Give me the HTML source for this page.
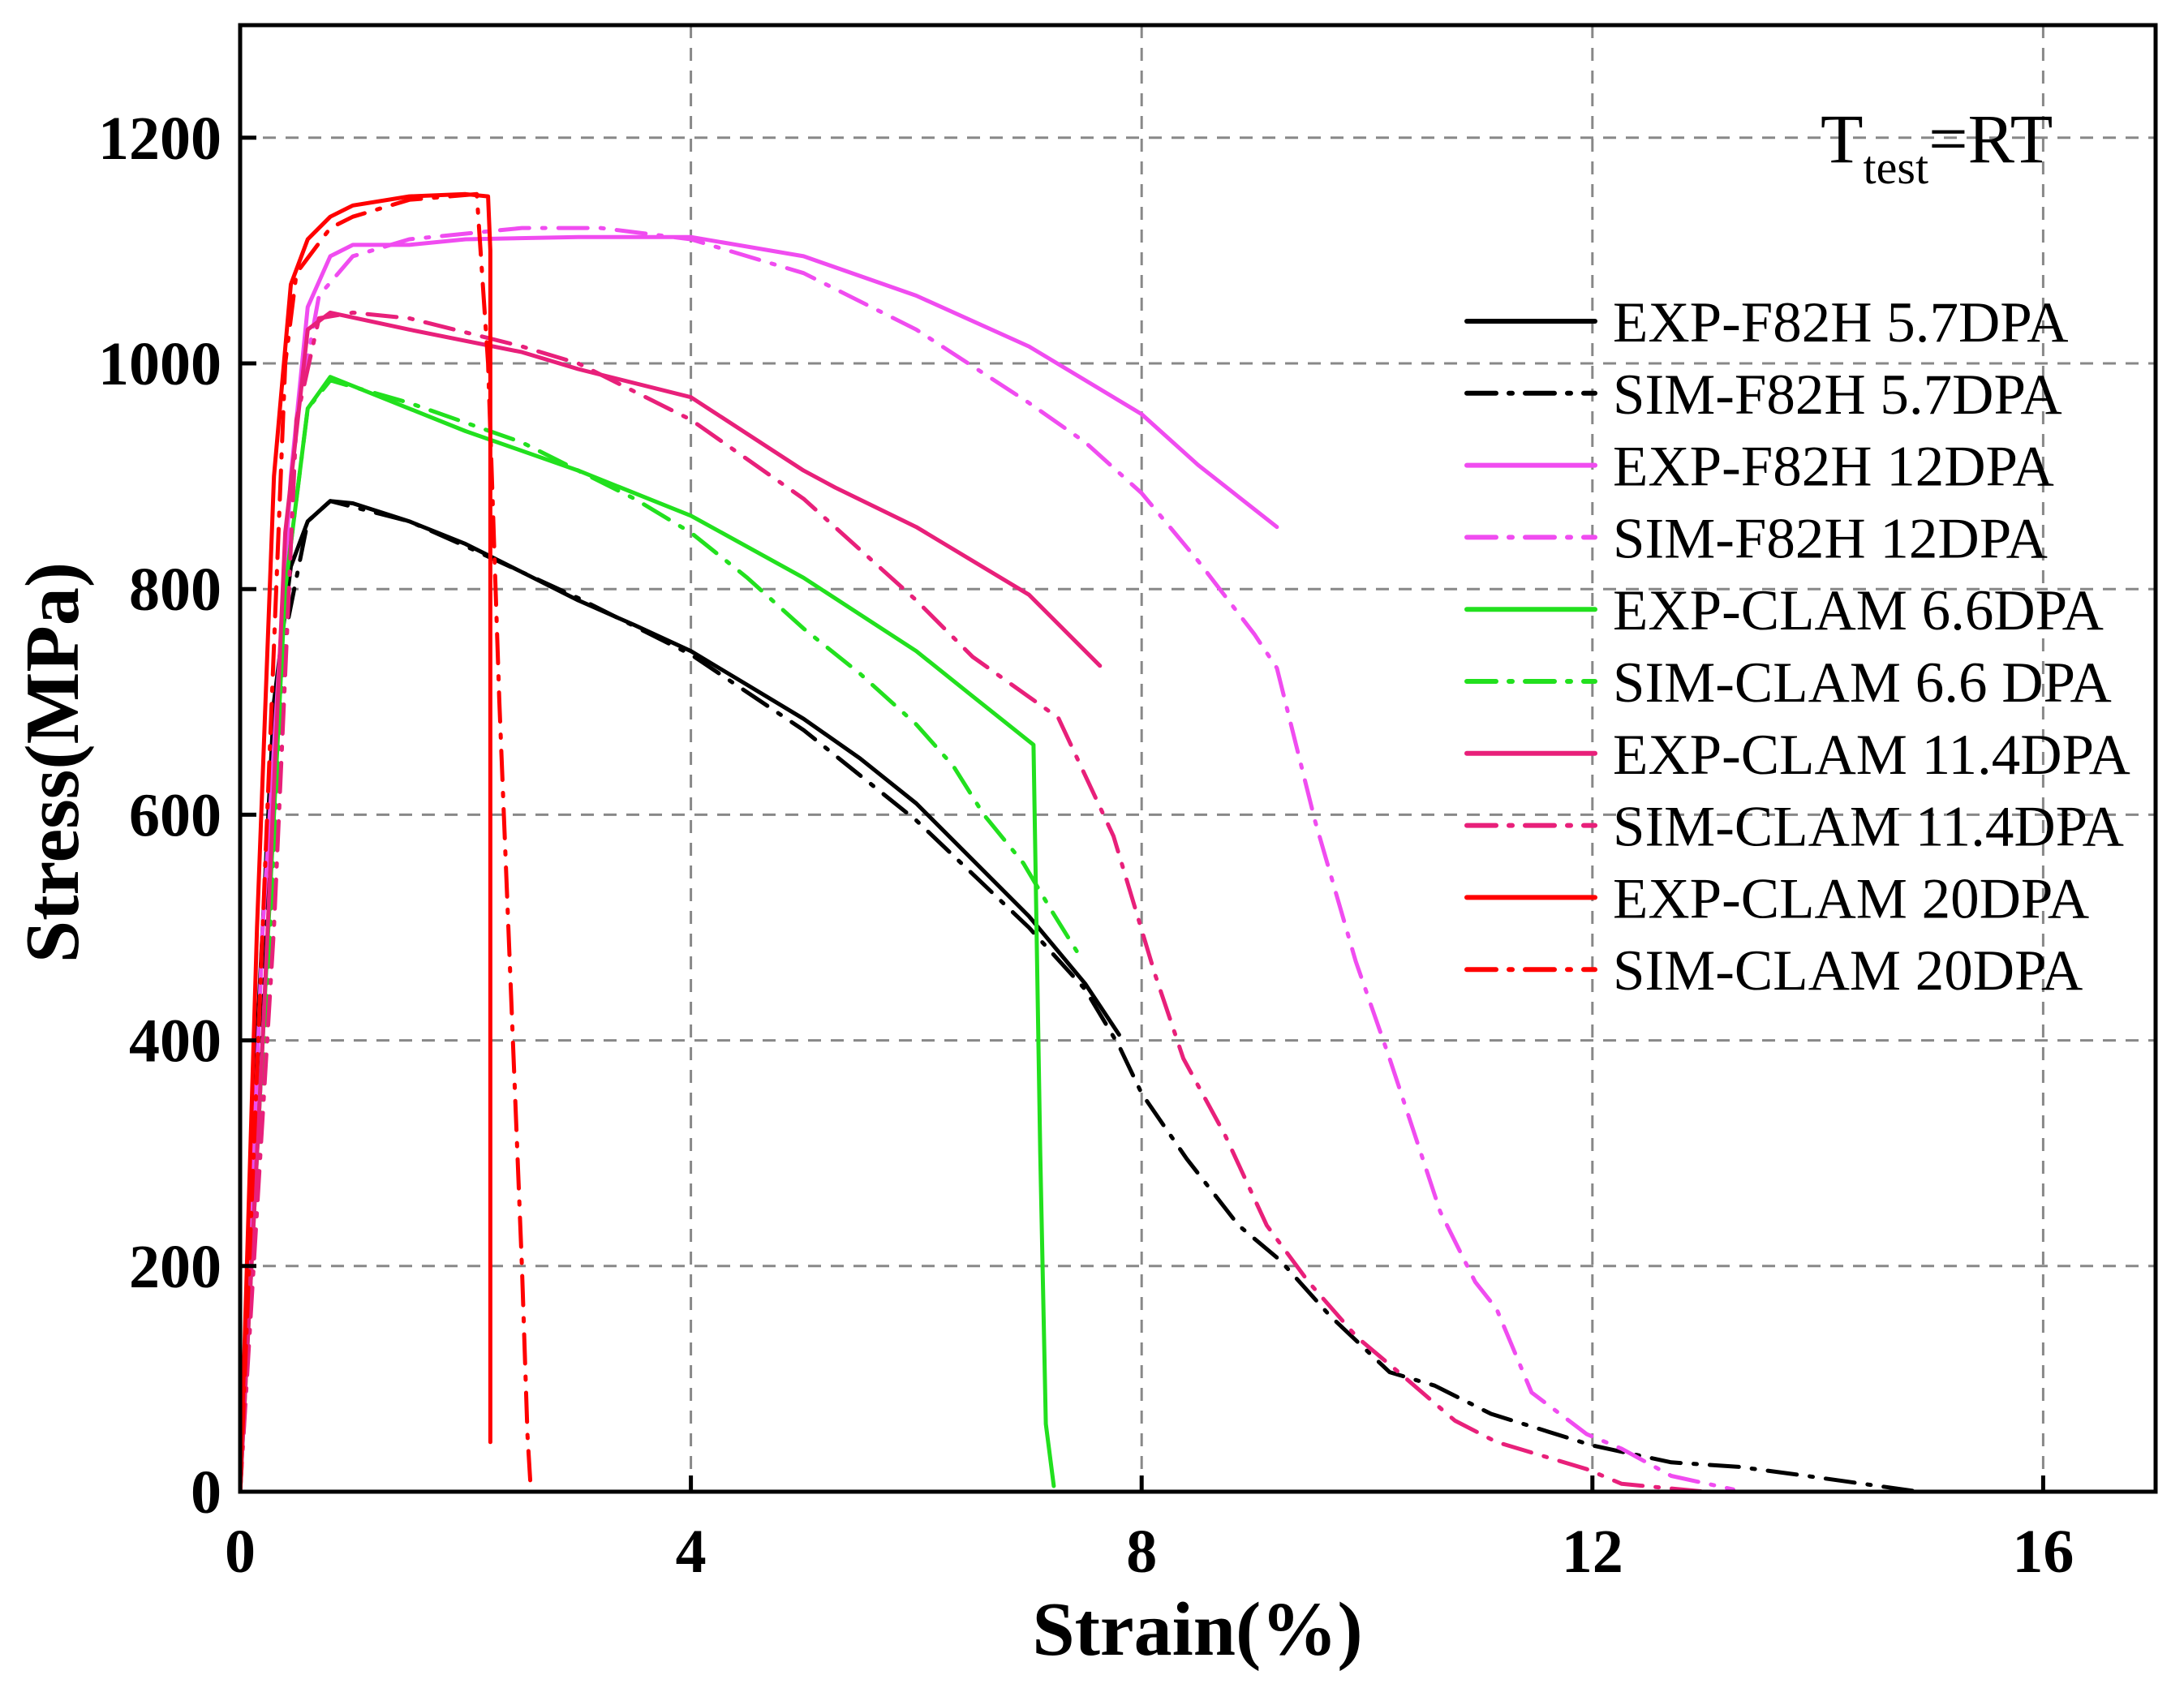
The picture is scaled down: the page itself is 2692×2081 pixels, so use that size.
<!DOCTYPE html>
<html><head><meta charset="utf-8"><style>
html,body{margin:0;padding:0;background:#fff}
svg{display:block}
text{font-family:"Liberation Serif","DejaVu Serif",serif}
</style></head><body>
<svg id="chart" width="2692" height="2081" viewBox="0 0 2692 2081" xmlns="http://www.w3.org/2000/svg">
<g id="grid"></g>
<g id="series"></g>
<rect x="296" y="31" width="2361" height="1808" fill="none" stroke="#000" stroke-width="5"/>
<g id="ticks"></g>
<text x="96" y="940" font-size="94" font-weight="bold" text-anchor="middle" transform="rotate(-90 96 940)">Stress(MPa)</text>
<text x="1476" y="2040" font-size="94" font-weight="bold" text-anchor="middle">Strain(%)</text>
<text x="2244" y="200" font-size="86">T<tspan font-size="58" dy="26">test</tspan><tspan dy="-26">=RT</tspan></text>
<g id="legend"></g>
</svg>
<script>
const xTicks=[0,4,8,12,16];
const yTicks=[0,200,400,600,800,1000,1200];
const seriesNames=["EXP-F82H 5.7DPA","SIM-F82H 5.7DPA","EXP-F82H 12DPA","SIM-F82H 12DPA","EXP-CLAM 6.6DPA","SIM-CLAM 6.6 DPA","EXP-CLAM 11.4DPA","SIM-CLAM 11.4DPA","EXP-CLAM 20DPA","SIM-CLAM 20DPA"];
const expF82H57=[[0,0],[0.15,400],[0.3,700],[0.45,820],[0.6,860],[0.8,878],[1,876],[1.5,860],[2,840],[2.5,815],[3,790],[3.5,768],[4,745],[4.5,715],[5,685],[5.5,650],[6,610],[6.5,560],[7,510],[7.5,450],[7.8,405]];
const simF82H57=[[0,0],[0.2,450],[0.4,760],[0.6,860],[0.8,878],[1.5,860],[2,838],[3,792],[4,742],[5,675],[6,595],[7,500],[7.5,445],[7.8,395],[8,353],[8.4,295],[8.86,236],[9.23,205],[9.67,156],[10.2,106],[10.6,94],[11.1,69],[12,41],[12.7,26],[13.3,22],[13.9,14],[14.9,0]];
const expF82H12=[[0,0],[0.2,500],[0.45,900],[0.6,1050],[0.8,1095],[1,1105],[1.5,1105],[2,1110],[3,1112],[4,1112],[5,1095],[6,1060],[7,1015],[8,955],[8.5,910],[9.2,855]];
const simF82H12=[[0,0],[0.3,600],[0.5,950],[0.7,1060],[1,1095],[1.5,1110],[2.5,1120],[3.2,1120],[4,1110],[5,1080],[6,1030],[7,965],[7.5,930],[8,885],[8.5,825],[9,760],[9.2,730],[9.54,594],[9.9,470],[10.2,384],[10.65,248],[10.96,186],[11.15,162],[11.46,88],[11.95,51],[12.26,38],[12.7,14],[13.25,2]];
const expCLAM66=[[0,0],[0.2,400],[0.4,800],[0.6,960],[0.8,988],[1,980],[2,940],[3,905],[4,865],[5,810],[6,745],[6.5,705],[7.04,662],[7.1,300],[7.15,60],[7.22,5]];
const simCLAM66=[[0,0],[0.2,350],[0.4,800],[0.6,960],[0.8,985],[1.5,965],[2.5,930],[3.5,880],[4,850],[4.5,810],[5,765],[5.5,725],[6,680],[6.33,643],[6.6,600],[6.95,557],[7.2,515],[7.48,470]];
const expCLAM114=[[0,0],[0.2,400],[0.4,850],[0.6,1030],[0.8,1045],[1.5,1030],[2.5,1010],[3,995],[4,970],[5,905],[5.28,890],[6,855],[7,795],[7.63,732]];
const simCLAM114=[[0,0],[0.3,500],[0.5,950],[0.7,1040],[1,1045],[1.5,1040],[2.5,1015],[3,1000],[4,950],[5,880],[6,790],[6.5,740],[7.26,686],[7.75,581],[8.12,458],[8.37,384],[8.74,316],[9.11,236],[9.48,186],[9.91,137],[10.28,106],[10.78,63],[11.15,44],[11.95,20],[12.26,7],[13,0]];
const expCLAM20=[[0,0],[0.15,500],[0.3,900],[0.45,1070],[0.6,1110],[0.8,1130],[1,1140],[1.5,1148],[2,1150],[2.2,1148],[2.22,1100],[2.22,44]];
const simCLAM20=[[0,0],[0.2,500],[0.4,1000],[0.5,1080],[0.8,1120],[1,1130],[1.5,1145],[2.1,1150],[2.2,1000],[2.3,700],[2.4,450],[2.5,200],[2.55,50],[2.58,0]];

const NS="http://www.w3.org/2000/svg";
const X0=296,XS=138.9,Y0=1839,YS=1.391,XR=2657;
function sx(v){return X0+v*XS;}
function sy(v){return Y0-v*YS;}
function mk(tag,attrs,parent){const e=document.createElementNS(NS,tag);for(const k in attrs)e.setAttribute(k,attrs[k]);parent.appendChild(e);return e;}
const grid=document.getElementById('grid'),ticks=document.getElementById('ticks'),ser=document.getElementById('series'),leg=document.getElementById('legend');
xTicks.forEach(t=>{
  if(t>0){const g=mk('line',{x1:sx(t),x2:sx(t),y1:31,y2:Y0,stroke:'#888','stroke-width':3,'stroke-dasharray':'16 12'},grid);
  
  }
  const tk=mk('line',{x1:sx(t),x2:sx(t),y1:Y0,y2:Y0-20,stroke:'#000','stroke-width':5},ticks);
  
  
  const lb=mk('text',{x:sx(t),y:1938,'font-size':76,'font-weight':'bold','text-anchor':'middle'},ticks);lb.textContent=t;
  
  
});
yTicks.forEach(t=>{
  if(t>0){const g=mk('line',{x1:X0,x2:XR,y1:sy(t),y2:sy(t),stroke:'#888','stroke-width':3,'stroke-dasharray':'16 12'},grid);
  
  }
  const tk=mk('line',{x1:X0,x2:X0+20,y1:sy(t),y2:sy(t),stroke:'#000','stroke-width':5},ticks);
  
  
  const lb=mk('text',{x:273,y:sy(t)+26,'font-size':76,'font-weight':'bold','text-anchor':'end'},ticks);lb.textContent=t;
  
  
});
const DD='36 16 4 16';
const data=[expF82H57,simF82H57,expF82H12,simF82H12,expCLAM66,simCLAM66,expCLAM114,simCLAM114,expCLAM20,simCLAM20];
const colors=['#000','#000','#f04cf0','#f04cf0','#22e01e','#22e01e','#e8207a','#e8207a','#f00','#f00'];
const dashes=[null,DD,null,DD,null,DD,null,DD,null,DD];
data.forEach((d,i)=>{
  const p=mk('polyline',{points:d.map(q=>sx(q[0]).toFixed(1)+','+sy(q[1]).toFixed(1)).join(' '),fill:'none',stroke:colors[i],'stroke-width':5,'stroke-linejoin':'round','stroke-linecap':'round'},ser);
  if(dashes[i])p.setAttribute('stroke-dasharray',dashes[i]);
  
  
  const ly=396+i*88.8;
  const ll=mk('line',{x1:1808,x2:1966,y1:ly,y2:ly,stroke:colors[i],'stroke-width':6,'stroke-linecap':'round'},leg);
  if(dashes[i])ll.setAttribute('stroke-dasharray',DD);
  
  
  const lt=mk('text',{x:1988,y:ly+25,'font-size':71},leg);lt.textContent=seriesNames[i];
  
  
});
</script>
</body></html>
